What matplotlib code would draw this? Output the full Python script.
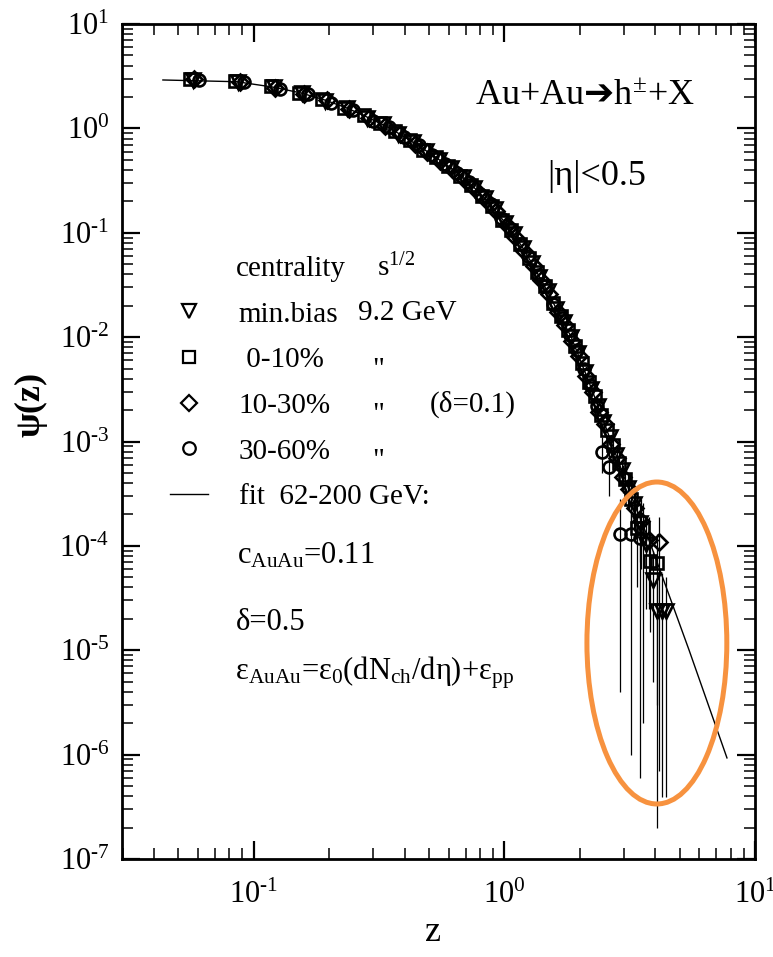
import numpy as np
import matplotlib
matplotlib.use("Agg")
import matplotlib.pyplot as plt
from matplotlib.patches import Ellipse
from matplotlib.ticker import LogLocator, NullFormatter, FuncFormatter

# fit 62-200 GeV
fit_z = [0.0434, 0.0855, 0.119, 0.155, 0.192, 0.235, 0.282, 0.348, 0.418, 0.503, 0.604, 0.726,
         0.871, 1.047, 1.20, 1.417, 1.849, 2.222, 2.669, 3.206, 3.853, 5.46, 7.73]
fit_psi = [2.91, 2.80, 2.49, 2.18, 1.87, 1.57, 1.29, 1.01, 0.774, 0.581, 0.427, 0.300,
           0.193, 0.111, 0.0684, 0.0338, 0.0100, 3.26e-3, 9.9e-4, 3.0e-4, 1.0e-4, 1.0e-5, 9.3e-7]

# min.bias
T_z = [0.0571, 0.0867, 0.120, 0.156, 0.193, 0.236, 0.284, 0.328, 0.376, 0.431, 0.486, 0.548,
       0.612, 0.683, 0.755, 0.835, 0.915, 1.005, 1.089, 1.182, 1.290, 1.379, 1.487, 1.606,
       1.724, 1.842, 1.960, 2.088, 2.226, 2.354, 2.482, 2.630, 2.778, 2.935, 3.103, 3.280,
       3.467, 3.664, 3.901, 4.05, 4.25, 4.42]
T_psi = [2.88, 2.77, 2.49, 2.16, 1.84, 1.57, 1.26, 1.10, 0.89, 0.74, 0.61, 0.50,
         0.42, 0.34, 0.27, 0.213, 0.168, 0.125, 0.097, 0.071, 0.051, 0.038, 0.0275, 0.0188,
         0.0139, 0.0100, 0.0071, 0.0046, 0.0032, 0.0022, 0.00155, 0.00110, 0.00074, 0.00053, 0.00036, 0.00025,
         1.65e-4, 1.05e-4, 4.7e-5, 2.4e-5, 2.4e-5, 2.4e-5]
T_lo = [3.8e-4, 2.3e-4, 1.4e-4, 7e-5, 2.5e-5, 5e-6, 2.0e-7, 3.9e-7, 3.9e-7]
T_hi = [6.8e-4, 4.9e-4, 3.6e-4, 2.6e-4, 1.8e-4, 9e-5, 5.5e-5, 5.5e-5, 5e-5]

# 0-10%
S_z = [0.0557, 0.0845, 0.117, 0.152, 0.188, 0.230, 0.276, 0.320, 0.367, 0.420, 0.473, 0.534,
       0.596, 0.665, 0.735, 0.814, 0.892, 0.979, 1.062, 1.152, 1.258, 1.344, 1.450, 1.565,
       1.680, 1.795, 1.910, 2.035, 2.170, 2.294, 2.419, 2.563, 2.707, 2.861, 3.024, 3.197,
       3.379, 3.571, 3.802, 4.05]
S_psi = [2.97, 2.82, 2.52, 2.18, 1.92, 1.58, 1.33, 1.12, 0.94, 0.78, 0.62, 0.53,
         0.44, 0.35, 0.29, 0.225, 0.182, 0.134, 0.107, 0.078, 0.057, 0.042, 0.031, 0.0212,
         0.0158, 0.0118, 0.0083, 0.0056, 0.0037, 0.0027, 0.0018, 0.00128, 0.00092, 0.00062, 0.00044, 0.00028,
         1.5e-4, 1.48e-4, 7.2e-5, 6.8e-5]
S_lo = [7.0e-4, 4.4e-4, 2.9e-4, 1.5e-4, 4e-5, 2.0e-6, 1.5e-5, 3e-6]
S_hi = [1.15e-3, 8.0e-4, 6.0e-4, 4.2e-4, 2.6e-4, 2.6e-4, 1.3e-4, 1.3e-4]

# 10-30%
D_z = [0.058, 0.088, 0.122, 0.158, 0.196, 0.240, 0.288, 0.333, 0.382, 0.438, 0.493, 0.556,
       0.621, 0.693, 0.766, 0.848, 0.929, 1.02, 1.106, 1.20, 1.31, 1.40, 1.51, 1.63,
       1.75, 1.87, 1.99, 2.12, 2.26, 2.39, 2.52, 2.67, 2.82, 2.98, 3.15, 3.33,
       3.52, 3.78, 4.14]
D_psi = [2.95, 2.80, 2.44, 2.13, 1.86, 1.52, 1.27, 1.05, 0.89, 0.71, 0.60, 0.49,
         0.40, 0.33, 0.26, 0.205, 0.160, 0.119, 0.092, 0.067, 0.048, 0.035, 0.026, 0.0175,
         0.0132, 0.0091, 0.0066, 0.0042, 0.0030, 0.0019, 0.00148, 0.00095, 0.00070, 0.00046, 0.00035, 0.00023,
         1.75e-4, 1.15e-4, 1.10e-4]
D_lo = [7.5e-4, 5.2e-4, 3.2e-4, 2.2e-4, 1.2e-4, 6e-5, 2.5e-5, 7e-7]
D_hi = [1.15e-3, 8.8e-4, 6.0e-4, 4.8e-4, 3.4e-4, 2.8e-4, 1.9e-4, 1.9e-4]

# 30-60%
O_z = [0.0603, 0.0915, 0.127, 0.164, 0.204, 0.250, 0.300, 0.346, 0.397, 0.456, 0.513, 0.578,
       0.646, 0.721, 0.797, 0.882, 0.966, 1.061, 1.150, 1.248, 1.362, 1.456, 1.570, 1.695,
       1.820, 1.945, 2.070, 2.205, 2.350, 2.46, 2.62, 2.89, 3.19, 3.48]
O_psi = [2.90, 2.76, 2.40, 2.12, 1.76, 1.49, 1.19, 1.03, 0.82, 0.69, 0.55, 0.46,
         0.37, 0.305, 0.236, 0.190, 0.139, 0.108, 0.078, 0.060, 0.039, 0.031, 0.0206, 0.0152,
         0.0105, 0.0075, 0.0049, 0.0035, 0.0022, 8.0e-4, 5.7e-4, 1.3e-4, 1.3e-4, 1.2e-4]
O_lo = [1.6e-3, 5.0e-4, 3.0e-4, 4.0e-6, 1.0e-6, 6.0e-7]
O_hi = [2.8e-3, 1.1e-3, 8.5e-4, 2.8e-4, 2.4e-4, 2.2e-4]

series = [
    (T_z, T_psi, T_lo, T_hi, 'v', 9.5, 'min.bias'),
    (S_z, S_psi, S_lo, S_hi, 's', 8.6, ' 0-10%'),
    (D_z, D_psi, D_lo, D_hi, 'D', 8.0, '10-30%'),
    (O_z, O_psi, O_lo, O_hi, 'o', 8.6, '30-60%'),
]

plt.rcParams['font.family'] = ['Liberation Serif', 'DejaVu Serif', 'DejaVu Sans']
plt.rcParams['mathtext.fontset'] = 'custom'
plt.rcParams['mathtext.rm'] = 'Liberation Serif'
plt.rcParams['mathtext.it'] = 'Liberation Serif:italic'
plt.rcParams['mathtext.bf'] = 'Liberation Serif:bold'
plt.rcParams['mathtext.sf'] = 'DejaVu Sans'


def decade(v, pos):
    return '10$^{\\text{%d}}$' % int(round(np.log10(v)))


fig = plt.figure(figsize=(7.73, 9.57), dpi=100)
ax = fig.add_axes([0.1578, 0.1024, 0.8189, 0.8725])

for z, psi, lo, hi, mk, ms, lab in series:
    n = len(lo)
    zt = np.array(z[-n:])
    pt = np.array(psi[-n:])
    err = [pt - np.array(lo), np.array(hi) - pt]
    ax.errorbar(zt, pt, yerr=err, fmt='none', ecolor='k', elinewidth=0.9, capsize=0, zorder=2)
    ax.plot(z, psi, ls='none', marker=mk, ms=ms, mfc='none', mec='k', mew=1.9, label=lab, zorder=3)

ax.plot(fit_z, fit_psi, color='k', lw=1.0, label='fit  62-200 GeV:', zorder=1)

ax.set_xscale('log')
ax.set_yscale('log')
ax.set_xlim(0.0298, 10)
ax.set_ylim(1e-7, 10)

for axis in (ax.xaxis, ax.yaxis):
    axis.set_major_locator(LogLocator(base=10, numticks=20))
    axis.set_minor_locator(LogLocator(base=10, subs=np.arange(2, 10), numticks=20))
    axis.set_major_formatter(FuncFormatter(decade))
    axis.set_minor_formatter(NullFormatter())

ax.tick_params(which='both', direction='in', top=True, right=True)
ax.tick_params(which='major', length=13, width=1.6, labelsize=22)
ax.tick_params(which='minor', length=8, width=1.1)
ax.tick_params(axis='x', pad=16)
ax.tick_params(axis='y', pad=9)
for sp in ax.spines.values():
    sp.set_linewidth(2)

ax.set_ylabel('ψ(z)', fontsize=26, fontweight='bold')
ax.yaxis.set_label_coords(-0.118, 0.544)
ax.set_xlabel('z', fontsize=26)
ax.xaxis.set_label_coords(0.491, -0.068)

leg = ax.legend(loc='upper left', bbox_to_anchor=(0.0758, 0.668), frameon=False, fontsize=21,
                handlelength=1.3, handletextpad=1.05, labelspacing=0.66, borderpad=0,
                borderaxespad=0, markerscale=1.05)
for h in leg.legend_handles:
    h.set_markeredgewidth(1.6)

tr = ax.transAxes
ax.text(0.7314, 0.9126, 'Au+Au$\\mathsf{➔}$h$^{\\pm}$+X', fontsize=26, ha='center', va='center', transform=tr)
ax.text(0.7504, 0.8168, '|η|<0.5', fontsize=26, ha='center', va='center', transform=tr)
ax.text(0.1801, 0.698, 'centrality', fontsize=21, ha='left', va='baseline', transform=tr)
ax.text(0.4028, 0.698, 's$^{1/2}$', fontsize=21, ha='left', va='baseline', transform=tr)
ax.text(0.3728, 0.6455, '9.2 GeV', fontsize=21, ha='left', va='baseline', transform=tr)
for yq in (0.5772, 0.5234, 0.4683):
    ax.text(0.395, yq, '"', fontsize=21, ha='left', va='baseline', transform=tr)
ax.text(0.4866, 0.5353, '(δ=0.1)', fontsize=21, ha='left', va='baseline', transform=tr)
ax.text(0.1817, 0.3545, 'c$_{\\rm AuAu}$=0.11', fontsize=22, ha='left', va='baseline', transform=tr)
ax.text(0.180, 0.2743, 'δ=0.5', fontsize=22, ha='left', va='baseline', transform=tr)
ax.text(0.1785, 0.2144, 'ε$_{\\rm AuAu}$=ε$_0$(dN$_{\\rm ch}$/dη)+ε$_{\\rm pp}$', fontsize=22,
        ha='left', va='baseline', transform=tr)

ax.add_patch(Ellipse((0.845, 0.2587), 0.221, 0.3856, transform=tr, fill=False,
                     ec='#F7923F', lw=3.6, zorder=5))

fig.savefig('out.png', dpi=100)
